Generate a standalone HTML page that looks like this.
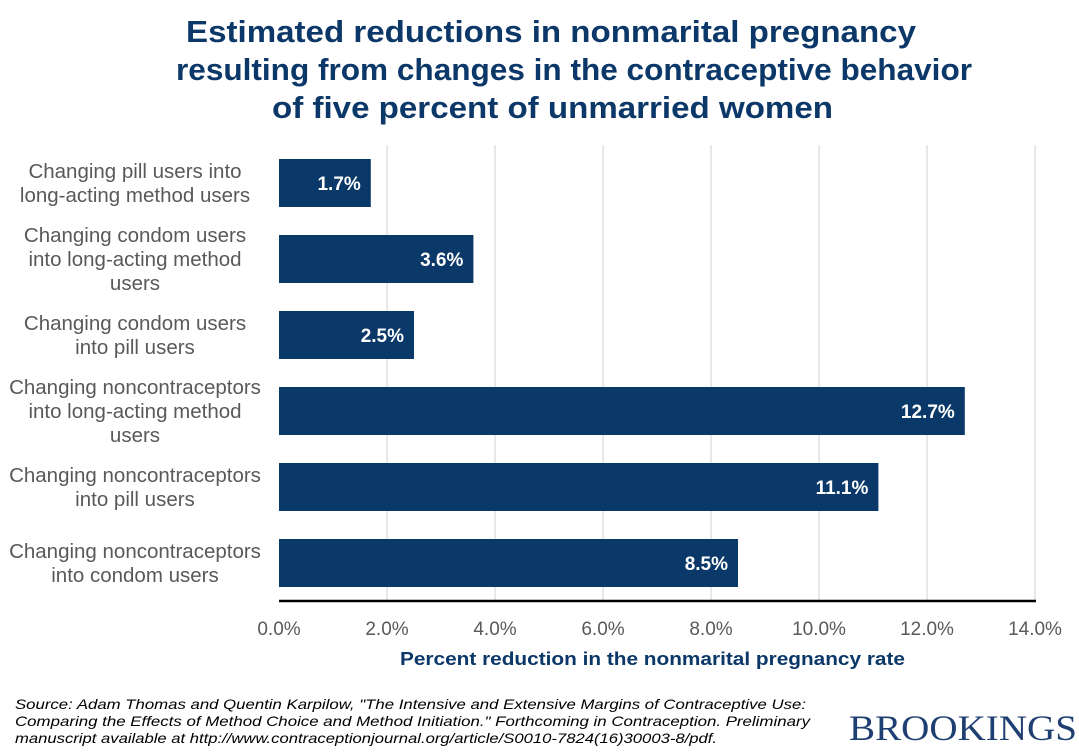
<!DOCTYPE html>
<html><head><meta charset="utf-8"><style>
body{margin:0;background:#fff;width:1079px;height:751px;overflow:hidden;font-family:"Liberation Sans",Arial,sans-serif}
</style></head><body>
<svg id="chart" width="1079" height="751" xmlns="http://www.w3.org/2000/svg">
<g font-family="Liberation Sans, sans-serif" font-weight="bold" font-size="31" fill="#0b3868">
<text x="186" y="42" textLength="730" lengthAdjust="spacingAndGlyphs">Estimated reductions in nonmarital pregnancy</text>
<text x="176" y="80" textLength="796" lengthAdjust="spacingAndGlyphs">resulting from changes in the contraceptive behavior</text>
<text x="272" y="118" textLength="561" lengthAdjust="spacingAndGlyphs">of five percent of unmarried women</text>
</g>
<g id="grid"></g>
<g id="bars"></g>
<g id="cats" font-size="20.5" fill="#595959" text-anchor="middle"></g>
<g id="ticks" font-size="19" fill="#595959" text-anchor="middle"></g>
<line x1="279" y1="601" x2="1036" y2="601" stroke="#000" stroke-width="2.5"/>
<text x="400" y="665" font-size="18" font-weight="bold" fill="#0b3868" textLength="505" lengthAdjust="spacingAndGlyphs">Percent reduction in the nonmarital pregnancy rate</text>
<g font-size="14" font-style="italic" fill="#000">
<text x="15" y="709" textLength="791" lengthAdjust="spacingAndGlyphs">Source: Adam Thomas and Quentin Karpilow, "The Intensive and Extensive Margins of Contraceptive Use:</text>
<text x="15" y="726" textLength="795" lengthAdjust="spacingAndGlyphs">Comparing the Effects of Method Choice and Method Initiation." Forthcoming in Contraception.  Preliminary</text>
<text x="15" y="743" textLength="702" lengthAdjust="spacingAndGlyphs">manuscript available at http://www.contraceptionjournal.org/article/S0010-7824(16)30003-8/pdf.</text>
</g>
<text x="1077" y="740" font-family="Liberation Serif, serif" font-size="36" fill="#1f3f72" text-anchor="end" textLength="228" lengthAdjust="spacingAndGlyphs">BROOKINGS</text>
</svg>
<script>
const categories=[["Changing pill users into","long-acting method users"],["Changing condom users","into long-acting method","users"],["Changing condom users","into pill users"],["Changing noncontraceptors","into long-acting method","users"],["Changing noncontraceptors","into pill users"],["Changing noncontraceptors","into condom users"]];
const values=[1.7,3.6,2.5,12.7,11.1,8.5];
const tickValues=[0,2,4,6,8,10,12,14];
const tickLabels=["0.0%","2.0%","4.0%","6.0%","8.0%","10.0%","12.0%","14.0%"];
(function(){
const NS="http://www.w3.org/2000/svg";
const x0=279,x1=1035,xmax=14,plotTop=145,plotBottom=601;
const xs=v=>x0+(v/xmax)*(x1-x0);
const band=(plotBottom-plotTop)/categories.length;
const yc=i=>plotTop+band*(i+0.5);
function mk(t,a){const e=document.createElementNS(NS,t);for(const k in a)e.setAttribute(k,a[k]);return e;}
const grid=document.getElementById('grid'),bars=document.getElementById('bars'),cats=document.getElementById('cats'),ticks=document.getElementById('ticks');
tickValues.forEach((v,i)=>{
 if(v>0){const l=mk('line',{x1:xs(v),x2:xs(v),y1:plotTop,y2:plotBottom,stroke:'#d0d0d0','stroke-width':1});
 
 
 grid.appendChild(l);}
 const t=mk('text',{x:xs(v),y:635});t.textContent=tickLabels[i];
 
 
 ticks.appendChild(t);
});
values.forEach((v,i)=>{
 const h=48,y=yc(i)-h/2;
 const r=mk('rect',{x:x0,y:y,width:xs(v)-x0,height:h,fill:'#0a3868'});
 
 
 bars.appendChild(r);
 const t=mk('text',{x:xs(v)-10,y:yc(i)+7,'font-size':19,'font-weight':'bold',fill:'#fff','text-anchor':'end'});
 t.textContent=v.toFixed(1)+'%';
 
 
 bars.appendChild(t);
 const lines=categories[i],lh=24,start=yc(i)-(lines.length-1)*lh/2+7;
 lines.forEach((s,j)=>{const c=mk('text',{x:135,y:start+j*lh});c.textContent=s;
 
 
 cats.appendChild(c);});
});
})();
</script>
</body></html>
